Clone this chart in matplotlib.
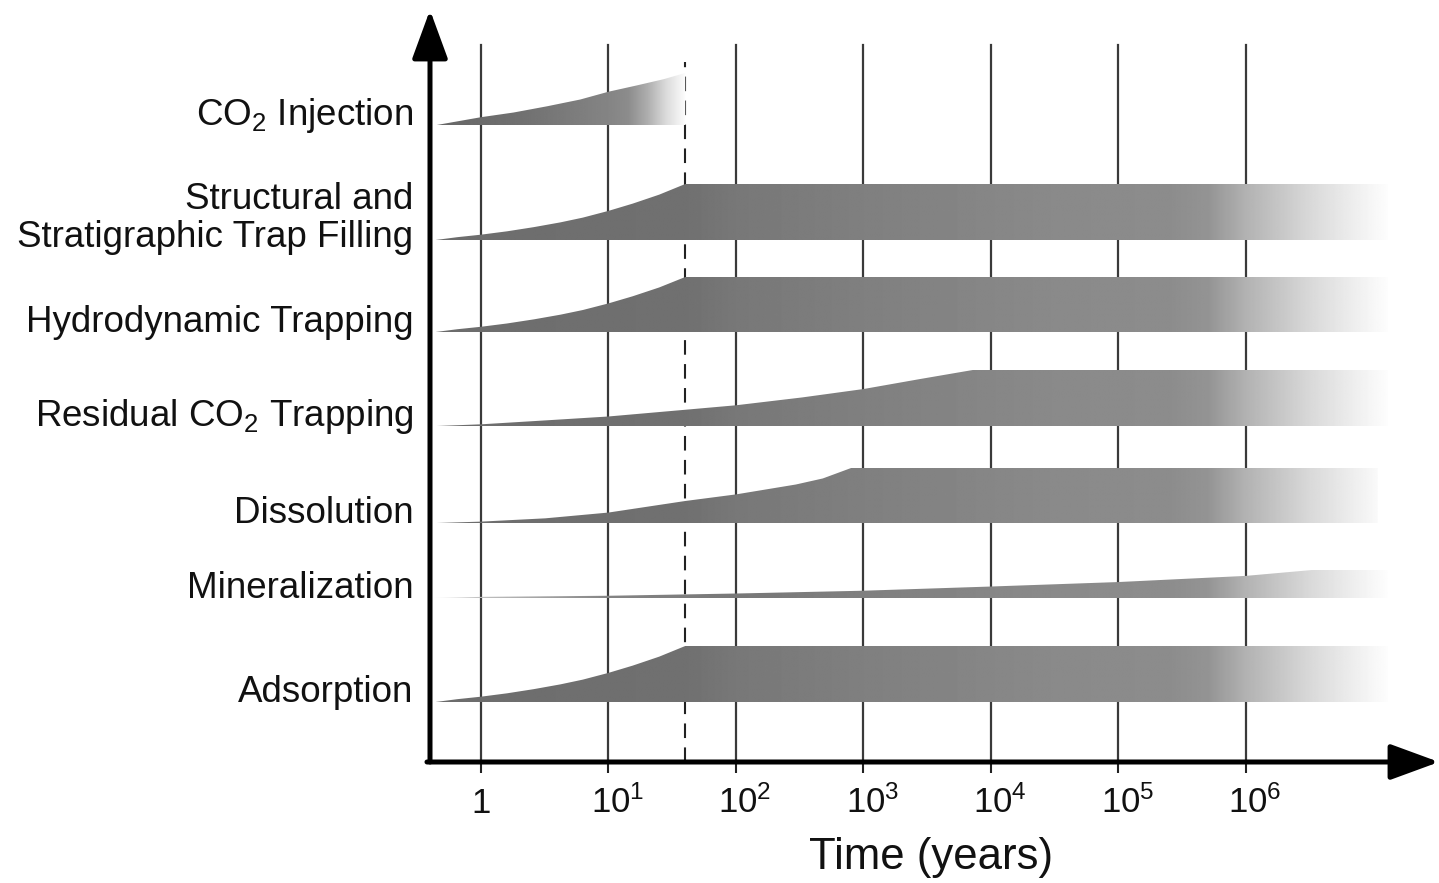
import numpy as np
import matplotlib
matplotlib.use("Agg")
import matplotlib.pyplot as plt
from matplotlib.patches import Polygon
from matplotlib.transforms import ScaledTranslation

plt.rcParams["font.family"] = ["Liberation Sans", "DejaVu Sans"]
plt.rcParams["mathtext.fontset"] = "custom"
plt.rcParams["mathtext.rm"] = "Liberation Sans"
plt.rcParams["mathtext.it"] = "Liberation Sans:italic"
plt.rcParams["mathtext.bf"] = "Liberation Sans:bold"

# Trapping mechanisms, top to bottom
mechanisms = [
    "CO$_2$ Injection",
    "Structural and\nStratigraphic Trap Filling",
    "Hydrodynamic Trapping",
    "Residual CO$_2$ Trapping",
    "Dissolution",
    "Mineralization",
    "Adsorption",
]

# Rising part of each band: time (years) and share of the full band thickness
inj_years = [0.45, 1, 1.8, 3.3, 6, 10, 16.6, 27, 40]
inj_share = [0, 0.15, 0.24, 0.36, 0.49, 0.64, 0.76, 0.88, 1.0]

fast_years = [0.44, 0.65, 1, 1.6, 2.6, 4.2, 6.3, 10, 15.5, 25, 40]
fast_share = [0, 0.05, 0.095, 0.155, 0.23, 0.315, 0.40, 0.52, 0.65, 0.81, 1.0]

resid_years = [0.45, 1, 3.2, 10, 40, 100, 330, 1000, 2800, 7200]
resid_share = [0, 0.03, 0.10, 0.17, 0.29, 0.37, 0.51, 0.66, 0.84, 1.0]

diss_years = [0.45, 1, 3.2, 10, 40, 100, 295, 480, 800]
diss_share = [0, 0.025, 0.085, 0.19, 0.40, 0.52, 0.70, 0.81, 1.0]

miner_years = [0.43, 1, 10, 100, 1e3, 1e4, 1e5, 1e6, 3.3e6]
miner_share = [0, 0.04, 0.08, 0.16, 0.26, 0.41, 0.57, 0.79, 1.0]

# time where each band stops (None = stops at end of the rise)
end_years = [None, 1.3e7, 1.3e7, 1.3e7, 1.08e7, 1.3e7, 1.3e7]

curves = [
    (inj_years, inj_share),
    (fast_years, fast_share),
    (fast_years, fast_share),
    (resid_years, resid_share),
    (diss_years, diss_share),
    (miner_years, miner_share),
    (fast_years, fast_share),
]

decades = [1, 10, 100, 1e3, 1e4, 1e5, 1e6]
decade_labels = ["1", "10$^1$", "10$^2$", "10$^3$", "10$^4$", "10$^5$", "10$^6$"]
injection_end = 40

# layout (y in pixel-like units above the time axis)
band_bottom = [637, 522, 430, 336, 239, 164, 60]
band_height = [52, 56, 55, 56, 55, 28, 56]
label_drop = [0, 7, 0, 0, 0, 0, 0]

# grey shading along log time
shade_long = ([-0.4, 0.0, 1.6, 2.0, 3.0, 4.5, 5.4, 5.7, 6.0, 6.5, 7.0, 7.15],
              [0.42, 0.43, 0.44, 0.47, 0.50, 0.54, 0.55, 0.58, 0.70, 0.85, 0.97, 1.0])
shade_inj = ([-0.4, 0.3, 1.0, 1.15, 1.3, 1.45, 1.61],
             [0.40, 0.44, 0.52, 0.55, 0.68, 0.86, 1.0])
shade_min = ([-0.4, 0.0, 1.0, 2.0, 3.0, 4.5, 5.4, 5.7, 6.0, 6.5, 7.0, 7.15],
             [0.95, 0.75, 0.52, 0.47, 0.50, 0.54, 0.55, 0.58, 0.70, 0.85, 0.97, 1.0])
shades = [shade_inj, shade_long, shade_long, shade_long, shade_long, shade_min, shade_long]

fig = plt.figure(figsize=(14.39, 8.83), dpi=100)
ax = fig.add_axes([430 / 1439, 121 / 883, 1009 / 1439, 752 / 883])
xmin, xmax = -0.4, 7.514
ymin, ymax = 0, 752

# vertical decade lines (behind the bands)
for d in decades:
    ax.plot([np.log10(d)] * 2, [0, 717], color="#3a3a3a", lw=1.6, zorder=1)
ax.plot([np.log10(injection_end)] * 2, [0, 700], color="#222222", lw=1.5,
        ls=(0, (7, 4.5)), zorder=1)

for i, (years, share) in enumerate(curves):
    lx = np.log10(years)
    b = band_bottom[i]
    h = band_height[i]
    top = b + np.array(share) * h
    if end_years[i] is None:
        lend = lx[-1]
        verts = list(zip(lx, top)) + [(lend, b)]
    else:
        lend = np.log10(end_years[i])
        verts = list(zip(lx, top)) + [(lend, b + h), (lend, b)]
    poly = Polygon(verts, closed=True, facecolor="none", edgecolor="none",
                   transform=ax.transData)
    ax.add_patch(poly)
    cols = np.linspace(lx[0], lend, 800)
    stops, greys = shades[i]
    grad = np.interp(cols, stops, greys)[np.newaxis, :]
    im = ax.imshow(grad, extent=[lx[0], lend, b, b + h], aspect="auto",
                   cmap="gray", vmin=0, vmax=1, interpolation="bilinear",
                   origin="lower", zorder=2)
    im.set_clip_path(poly)
    ax.text(-0.53, b - label_drop[i], mechanisms[i], ha="right", va="baseline",
            fontsize=26.5, linespacing=1.12, color="#111111", clip_on=False)

ax.set_xlim(xmin, xmax)
ax.set_ylim(ymin, ymax)
for s in ax.spines.values():
    s.set_visible(False)
ax.set_yticks([])
ax.set_xticks(np.log10(decades))
ax.set_xticklabels(decade_labels)
ax.tick_params(axis="x", direction="out", length=8, width=1.5, color="#222222",
               pad=28.8, labelsize=25, labelcolor="#111111")
shift = ScaledTranslation(6.5 / 72, 0, fig.dpi_scale_trans)
for k, lbl in enumerate(ax.get_xticklabels()):
    lbl.set_verticalalignment("baseline")
    if k > 0:
        lbl.set_transform(lbl.get_transform() + shift)

arrow = dict(arrowstyle="-|>,head_length=30,head_width=11", mutation_scale=1,
             lw=3.6, color="black", shrinkA=0, shrinkB=0)
ax.annotate("", xy=(1, 0), xytext=(-0.003, 0), xycoords="axes fraction",
            textcoords="axes fraction", arrowprops=arrow, annotation_clip=False)
ax.annotate("", xy=(0, 1), xytext=(0, 0), xycoords="axes fraction",
            textcoords="axes fraction", arrowprops=arrow, annotation_clip=False)

fig.text(931 / 1439, 1 - 858 / 883, "Time (years)", fontsize=31.5, ha="center",
         va="center", color="#111111")

fig.savefig("out.png", dpi=100)
